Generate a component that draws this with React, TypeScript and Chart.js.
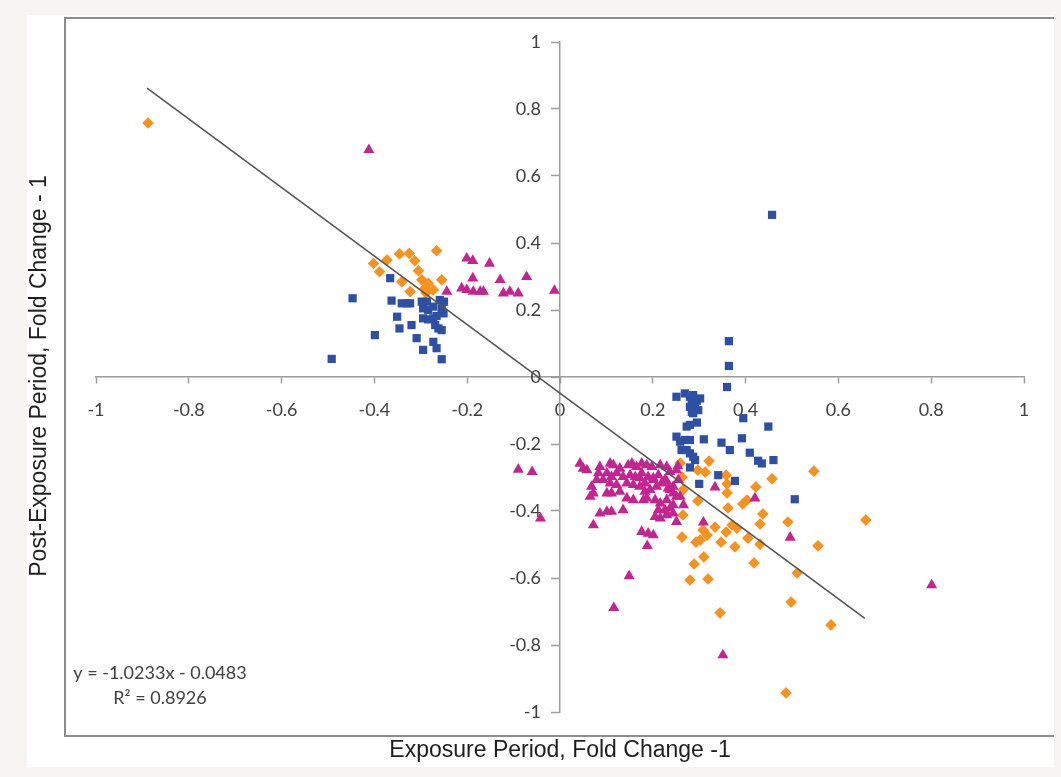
import React, { useEffect, useRef } from 'react';
import { Chart, registerables } from 'chart.js';

Chart.register(...registerables);

// ---- tick labels ----
const xTickValues = [-1, -0.8, -0.6, -0.4, -0.2, 0, 0.2, 0.4, 0.6, 0.8, 1];
const yTickValues = [-1, -0.8, -0.6, -0.4, -0.2, 0, 0.2, 0.4, 0.6, 0.8, 1];

// ---- texts ----
const xTitle = 'Exposure Period, Fold Change -1';
const yTitle = 'Post-Exposure Period, Fold Change - 1';
const equationLines = ['y = -1.0233x - 0.0483', 'R\u00B2 = 0.8926'];

// ---- series: orange diamonds ----
const orangeX = [
  -0.888, -0.266, -0.346, -0.325, -0.373, -0.313, -0.402, -0.389, -0.305, -0.341,
  -0.298, -0.284, -0.255, -0.291, -0.273, -0.323, -0.289,
  0.259, 0.263, 0.265, 0.265, 0.263, 0.297, 0.313, 0.321, 0.358, 0.457,
  0.547, 0.360, 0.422, 0.360, 0.297, 0.394, 0.403, 0.362, 0.437, 0.491,
  0.659, 0.431, 0.334, 0.371, 0.381, 0.308, 0.358, 0.302, 0.293, 0.317,
  0.347, 0.405, 0.431, 0.377, 0.556, 0.310, 0.418, 0.289, 0.511, 0.280,
  0.319, 0.345, 0.498, 0.584, 0.487,
];
const orangeY = [
  0.758, 0.377, 0.367, 0.369, 0.349, 0.347, 0.339, 0.314, 0.317, 0.284,
  0.290, 0.280, 0.290, 0.265, 0.260, 0.255, 0.251,
  -0.257, -0.299, -0.337, -0.412, -0.478, -0.278, -0.284, -0.251, -0.293, -0.304,
  -0.281, -0.319, -0.328, -0.346, -0.370, -0.379, -0.367, -0.391, -0.409, -0.433,
  -0.427, -0.439, -0.448, -0.442, -0.451, -0.457, -0.463, -0.487, -0.493, -0.472,
  -0.493, -0.481, -0.499, -0.507, -0.504, -0.537, -0.555, -0.558, -0.585, -0.606,
  -0.603, -0.704, -0.672, -0.740, -0.943,
];

// ---- series: blue squares ----
const blueX = [
  -0.366, -0.447, -0.363, -0.341, -0.330, -0.323, -0.298, -0.287, -0.259, -0.250,
  -0.295, -0.284, -0.273, -0.255, -0.251, -0.351, -0.295, -0.284, -0.273, -0.266,
  -0.320, -0.346, -0.269, -0.262, -0.255, -0.399, -0.309, -0.273, -0.266, -0.295,
  -0.255, -0.492,
  0.457, 0.364, 0.364, 0.360, 0.251, 0.269, 0.280, 0.287, 0.302, 0.284,
  0.295, 0.280, 0.291, 0.298, 0.284, 0.287, 0.395, 0.449, 0.295, 0.280,
  0.273, 0.251, 0.259, 0.269, 0.280, 0.310, 0.348, 0.392, 0.366, 0.262,
  0.273, 0.280, 0.287, 0.291, 0.409, 0.427, 0.435, 0.460, 0.280, 0.341,
  0.377, 0.300, 0.506,
];
const blueY = [
  0.295, 0.235, 0.228, 0.220, 0.220, 0.220, 0.225, 0.225, 0.230, 0.225,
  0.205, 0.200, 0.210, 0.205, 0.190, 0.180, 0.175, 0.172, 0.175, 0.182,
  0.155, 0.145, 0.155, 0.145, 0.140, 0.125, 0.116, 0.105, 0.086, 0.081,
  0.053, 0.054,
  0.484, 0.107, 0.033, -0.030, -0.059, -0.049, -0.059, -0.054, -0.064, -0.074,
  -0.071, -0.089, -0.093, -0.099, -0.104, -0.108, -0.123, -0.148, -0.136, -0.143,
  -0.148, -0.178, -0.193, -0.188, -0.188, -0.186, -0.196, -0.183, -0.218, -0.218,
  -0.218, -0.228, -0.238, -0.248, -0.226, -0.250, -0.258, -0.248, -0.270, -0.293,
  -0.310, -0.319, -0.365,
];

// ---- series: magenta triangles ----
const magentaX = [
  -0.412, -0.201, -0.188, -0.152, -0.188, -0.129, -0.072, -0.244, -0.212, -0.201,
  -0.187, -0.172, -0.165, -0.122, -0.108, -0.090, -0.012,
  -0.090, -0.060, -0.042, 0.149, 0.116, 0.351, 0.801, 0.496, 0.420, 0.334,
  0.309, 0.254,
  0.043, 0.050, 0.086, 0.083, 0.108, 0.115, 0.129, 0.122, 0.147, 0.155,
  0.165, 0.176, 0.187, 0.198, 0.216, 0.230, 0.079, 0.093, 0.101, 0.111,
  0.136, 0.151, 0.162, 0.176, 0.190, 0.201, 0.212, 0.226, 0.237, 0.251,
  0.068, 0.072, 0.108, 0.122, 0.129, 0.101, 0.111, 0.144, 0.158, 0.172,
  0.183, 0.194, 0.208, 0.219, 0.233, 0.244, 0.065, 0.144, 0.158, 0.187,
  0.205, 0.216, 0.230, 0.237, 0.244, 0.086, 0.101, 0.111, 0.136, 0.212,
  0.205, 0.216, 0.230, 0.251, 0.072, 0.176, 0.190, 0.201, 0.188, 0.244,
  0.251, 0.172, 0.183, 0.201, 0.230, 0.180, 0.226, 0.244, 0.237, 0.255,
  0.259, 0.266, 0.058,
];
const magentaY = [
  0.678, 0.354, 0.347, 0.339, 0.295, 0.290, 0.299, 0.255, 0.265, 0.260,
  0.255, 0.255, 0.255, 0.250, 0.255, 0.250, 0.258,
  -0.276, -0.283, -0.422, -0.594, -0.689, -0.830, -0.621, -0.479, -0.362, -0.329,
  -0.434, -0.266,
  -0.258, -0.273, -0.268, -0.287, -0.258, -0.263, -0.273, -0.287, -0.263, -0.258,
  -0.268, -0.258, -0.263, -0.268, -0.263, -0.268, -0.307, -0.307, -0.287, -0.298,
  -0.298, -0.293, -0.298, -0.287, -0.298, -0.302, -0.293, -0.307, -0.283, -0.278,
  -0.327, -0.347, -0.317, -0.322, -0.342, -0.347, -0.347, -0.317, -0.322, -0.327,
  -0.342, -0.337, -0.327, -0.317, -0.332, -0.327, -0.357, -0.362, -0.367, -0.362,
  -0.367, -0.377, -0.367, -0.392, -0.382, -0.407, -0.402, -0.402, -0.397, -0.397,
  -0.417, -0.422, -0.412, -0.432, -0.442, -0.462, -0.467, -0.472, -0.504, -0.347,
  -0.357, -0.302, -0.317, -0.307, -0.312, -0.367, -0.397, -0.407, -0.337, -0.307,
  -0.357, -0.382, -0.278,
];

// ---- linear trendline end points ----
const trendX = [-0.89, 0.657];
const trendY = [0.8624, -0.7206];

const toPoints = (xs: number[], ys: number[]) => xs.map((x, i) => ({ x, y: ys[i] }));
const fmt = (v: number) => String(Math.round(v * 10) / 10);

const AXIS_COLOR = '#9c9c9c';
const TICK_FONT = 'Lato';
const Y_LABEL_SHIFT = 19;

const decor = {
  id: 'decor',
  beforeDraw(chart: any) {
    const { ctx, width, height } = chart;
    ctx.save();
    ctx.fillStyle = '#f6f5f2';
    ctx.fillRect(0, 0, width, height);
    ctx.fillStyle = '#ffffff';
    ctx.fillRect(27, 15, 1027, 752);
    // outer plot frame (left, top, bottom edges; right edge is cropped in the source)
    ctx.strokeStyle = '#8c8c8c';
    ctx.lineWidth = 2;
    ctx.beginPath();
    ctx.moveTo(1054, 18);
    ctx.lineTo(65, 18);
    ctx.lineTo(65, 736);
    ctx.lineTo(1054, 736);
    ctx.stroke();
    ctx.restore();
    // move the y tick labels to the left of the tick marks
    const ys = chart.scales.y;
    const items = ys.getLabelItems(chart.chartArea);
    if (items && !items.__shifted) {
      items.forEach((it: any) => {
        if (it.options && it.options.translation) it.options.translation[0] -= Y_LABEL_SHIFT;
      });
      items.__shifted = true;
    }
  },
  afterDraw(chart: any) {
    const { ctx } = chart;
    ctx.save();
    ctx.fillStyle = '#1e1e1e';
    ctx.font = '23px "Liberation Sans"';
    ctx.textAlign = 'center';
    ctx.textBaseline = 'alphabetic';
    ctx.fillText(xTitle, 560, 757);
    ctx.save();
    ctx.translate(46, 376);
    ctx.rotate(-Math.PI / 2);
    ctx.fillText(yTitle, 0, 0);
    ctx.restore();
    ctx.fillStyle = '#404040';
    ctx.font = '18px ' + TICK_FONT;
    ctx.fillText(equationLines[0], 160, 679);
    ctx.fillText(equationLines[1], 160, 704);
    ctx.restore();
  },
};

export default function App() {
  const ref = useRef<HTMLCanvasElement>(null);
  useEffect(() => {
    const canvas = ref.current;
    if (!canvas) return;
    const chart = new Chart(canvas, {
      type: 'scatter',
      data: {
        datasets: [
          {
            label: 'Trend',
            data: toPoints(trendX, trendY),
            showLine: true,
            borderColor: '#555555',
            borderWidth: 1.6,
            pointRadius: 0,
            fill: false,
          },
          {
            label: 'Blue',
            data: toPoints(blueX, blueY),
            pointStyle: 'rect',
            pointRadius: 5.8,
            backgroundColor: '#2d4fa5',
            borderWidth: 0,
          },
          {
            label: 'Magenta',
            data: toPoints(magentaX, magentaY),
            pointStyle: 'triangle',
            pointRadius: 6.4,
            backgroundColor: '#c4248f',
            borderWidth: 0,
          },
          {
            label: 'Orange',
            data: toPoints(orangeX, orangeY),
            pointStyle: 'rectRot',
            pointRadius: 5.8,
            backgroundColor: '#f7921e',
            borderWidth: 0,
          },
        ],
      },
      options: {
        responsive: false,
        animation: false,
        layout: { padding: { left: 96, top: 42, right: 37, bottom: 65 } },
        plugins: { legend: { display: false }, tooltip: { enabled: false } },
        scales: {
          x: {
            type: 'linear',
            min: -1,
            max: 1,
            position: { y: 0 } as any,
            grid: { display: true, drawOnChartArea: false, drawTicks: true, tickLength: 6, tickColor: AXIS_COLOR, tickWidth: 1.5 },
            border: { display: true, color: AXIS_COLOR, width: 1.5 },
            ticks: {
              includeBounds: false,
              autoSkip: false,
              maxRotation: 0,
              padding: 16,
              color: '#404040',
              font: { family: TICK_FONT, size: 18 },
              callback: (v: any) => fmt(Number(v)),
            },
            afterBuildTicks: (s: any) => {
              s.ticks = xTickValues.map((v) => ({ value: v }));
            },
          },
          y: {
            type: 'linear',
            min: -1,
            max: 1,
            position: { x: 0 } as any,
            grid: { display: true, drawOnChartArea: false, drawTicks: true, tickLength: 8, tickColor: AXIS_COLOR, tickWidth: 1.5 },
            border: { display: true, color: AXIS_COLOR, width: 1.5 },
            ticks: {
              includeBounds: false,
              autoSkip: false,
              padding: 0,
              color: '#404040',
              font: { family: TICK_FONT, size: 18 },
              callback: (v: any) => fmt(Number(v)),
            },
            afterBuildTicks: (s: any) => {
              s.ticks = yTickValues.map((v) => ({ value: v }));
            },
          },
        },
      },
      plugins: [decor],
    });
    return () => chart.destroy();
  }, []);
  return (
    <div style={{ position: 'fixed', left: 0, top: 0, width: 1061, height: 777, background: '#f6f5f2' }}>
      <canvas ref={ref} width={1061} height={777} style={{ display: 'block', width: 1061, height: 777 }} />
    </div>
  );
}
